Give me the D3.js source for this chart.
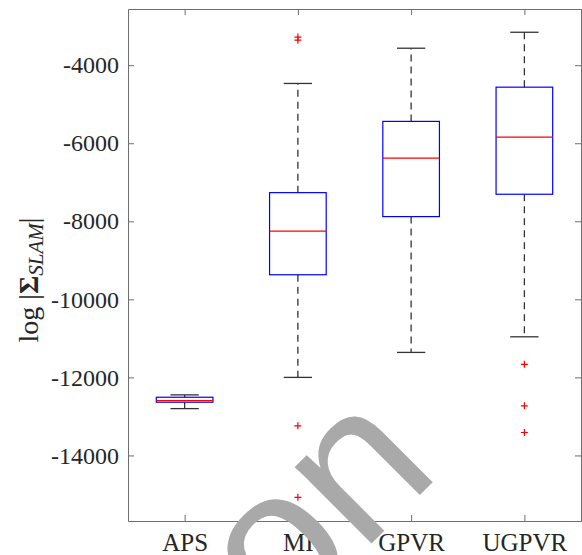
<!DOCTYPE html>
<html>
<head>
<meta charset="utf-8">
<script src="https://cdn.jsdelivr.net/npm/d3@7"></script>
<style>
  body { margin: 0; background: #fff; }
  svg { display: block; }
</style>
</head>
<body>
<div id="chart"></div>
<script>
// categories and box statistics
var categories = ["APS", "MI", "GPVR", "UGPVR"];
var whiskerLow = [-12800, -12000, -11360, -10960];
var q1 = [-12636, -9370, -7880, -7307];
var median = [-12593, -8253, -6379, -5841];
var q3 = [-12509, -7266, -5440, -4563];
var whiskerHigh = [-12448, -4468, -3565, -3156];
var outliers = [[], [-3280, -3360, -13240, -15074], [], [-11665, -12729, -13412]];
var yTicks = [-14000, -12000, -10000, -8000, -6000, -4000];

var width = 582, height = 555;
var margin = { top: 9, right: 1, bottom: 34, left: 128 };
var w = width - margin.left - margin.right,
    h = height - margin.top - margin.bottom;

var svg = d3.select("#chart")
    .append("svg")
    .attr("width", width)
    .attr("height", height);

var g = svg.append("g")
    .attr("transform", "translate(" + margin.left + "," + margin.top + ")");

var x = d3.scaleLinear().domain([0.5, 4.5]).range([0, w]);
var y = d3.scaleLinear().domain([-15680, -2560]).range([h, 0]);

var serif = "'Liberation Serif', 'DejaVu Serif', serif";

// watermark behind everything
svg.append("text")
    .attr("transform", "translate(281,634) rotate(-45)")
    .style("font-family", "'Liberation Sans', Arial, sans-serif")
    .style("font-size", "205px")
    .style("fill", "#a9a9a9")
    .text("on");

// axes (box on, ticks inside)
var axisColor = "#6e6e6e";
g.append("g")
    .call(d3.axisLeft(y).tickValues(yTicks).tickSizeInner(-6).tickSizeOuter(0).tickPadding(9).tickFormat(d3.format("d")))
    .call(function (a) {
        a.select(".domain").attr("stroke", axisColor);
        a.selectAll(".tick line").attr("stroke", axisColor);
        a.selectAll(".tick text").style("font-family", serif).style("font-size", "24px").attr("fill", "#262626")
            .text(function (d) { return "-" + Math.abs(d); });
    });
g.append("g")
    .attr("transform", "translate(" + w + ",0)")
    .call(d3.axisRight(y).tickValues(yTicks).tickSizeInner(-6).tickSizeOuter(0).tickFormat(""))
    .call(function (a) {
        a.select(".domain").attr("stroke", axisColor);
        a.selectAll(".tick line").attr("stroke", axisColor);
    });
g.append("g")
    .attr("transform", "translate(0," + h + ")")
    .call(d3.axisBottom(x).tickValues([1, 2, 3, 4]).tickSizeInner(-6).tickSizeOuter(0).tickPadding(12)
        .tickFormat(function (d) { return categories[d - 1]; }))
    .call(function (a) {
        a.select(".domain").attr("stroke", axisColor);
        a.selectAll(".tick line").attr("stroke", axisColor);
        a.selectAll(".tick text").style("font-family", serif).style("font-size", "25px").attr("fill", "#262626");
    });
g.append("g")
    .call(d3.axisTop(x).tickValues([1, 2, 3, 4]).tickSizeInner(-6).tickSizeOuter(0).tickFormat(""))
    .call(function (a) {
        a.select(".domain").attr("stroke", axisColor);
        a.selectAll(".tick line").attr("stroke", axisColor);
    });

// y label
var yl = svg.append("text")
    .attr("transform", "translate(38,280) rotate(-90)")
    .attr("text-anchor", "middle")
    .style("font-family", serif)
    .style("font-size", "28px")
    .attr("fill", "#262626");
yl.append("tspan").text("log |");
yl.append("tspan").style("font-weight", "bold").text("Σ");
yl.append("tspan").style("font-style", "italic").style("font-size", "21px").attr("dy", 5).text("SLAM");
yl.append("tspan").attr("dy", -5).text("|");

// boxes
var boxW = 0.5, capW = 0.25;
var data = categories.map(function (c, i) {
    return { i: i + 1, lo: whiskerLow[i], q1: q1[i], med: median[i], q3: q3[i], hi: whiskerHigh[i], out: outliers[i] };
});

var box = g.selectAll(".box").data(data).enter().append("g").attr("class", "box");

// dashed whiskers
box.append("line")
    .attr("x1", function (d) { return x(d.i); })
    .attr("x2", function (d) { return x(d.i); })
    .attr("y1", function (d) { return y(d.q3); })
    .attr("y2", function (d) { return y(d.hi); })
    .attr("stroke", "#333").attr("stroke-width", 1.3).attr("stroke-dasharray", "7,5");
box.append("line")
    .attr("x1", function (d) { return x(d.i); })
    .attr("x2", function (d) { return x(d.i); })
    .attr("y1", function (d) { return y(d.q1); })
    .attr("y2", function (d) { return y(d.lo); })
    .attr("stroke", "#333").attr("stroke-width", 1.3).attr("stroke-dasharray", "7,5");
// caps
["lo", "hi"].forEach(function (k) {
    box.append("line")
        .attr("x1", function (d) { return x(d.i - capW / 2); })
        .attr("x2", function (d) { return x(d.i + capW / 2); })
        .attr("y1", function (d) { return y(d[k]); })
        .attr("y2", function (d) { return y(d[k]); })
        .attr("stroke", "#333").attr("stroke-width", 1.3);
});
// box
box.append("rect")
    .attr("x", function (d) { return x(d.i - boxW / 2); })
    .attr("width", function (d) { return x(d.i + boxW / 2) - x(d.i - boxW / 2); })
    .attr("y", function (d) { return y(d.q3); })
    .attr("height", function (d) { return y(d.q1) - y(d.q3); })
    .attr("fill", "none").attr("stroke", "#0000ff").attr("stroke-width", 1.2);
// median
box.append("line")
    .attr("x1", function (d) { return x(d.i - boxW / 2); })
    .attr("x2", function (d) { return x(d.i + boxW / 2); })
    .attr("y1", function (d) { return y(d.med); })
    .attr("y2", function (d) { return y(d.med); })
    .attr("stroke", "#ff0000").attr("stroke-width", 1.2);

// outliers as red plus signs
var pts = [];
data.forEach(function (d) { d.out.forEach(function (v) { pts.push({ i: d.i, v: v }); }); });
g.selectAll(".out").data(pts).enter().append("path")
    .attr("class", "out")
    .attr("d", function (p) {
        var cx = x(p.i), cy = y(p.v), s = 3.5;
        return "M" + (cx - s) + "," + cy + "H" + (cx + s) + "M" + cx + "," + (cy - s) + "V" + (cy + s);
    })
    .attr("stroke", "#ff0000").attr("stroke-width", 1.2).attr("fill", "none");
</script>
</body>
</html>
